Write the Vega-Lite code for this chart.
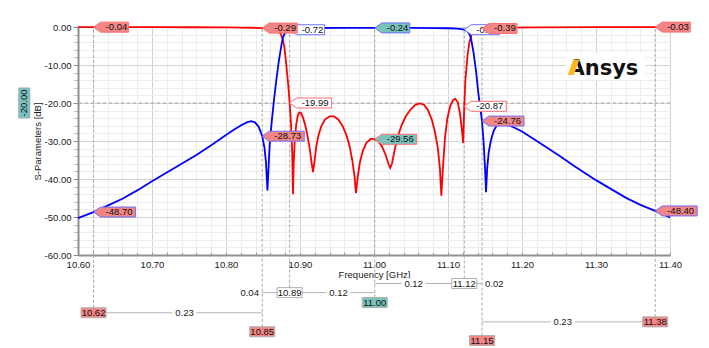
{
  "$schema": "https://vega.github.io/schema/vega-lite/v6.json",
  "width": 592,
  "height": 228,
  "autosize": {"type": "none"},
  "padding": {"left": 78, "top": 27, "right": 39, "bottom": 93},
  "background": "white",
  "config": {"font": "Liberation Sans", "view": {"stroke": "#a8a8a8", "strokeWidth": 1}},
  "resolve": {"axis": {"x": "independent", "y": "independent"}},
  "datasets": {
    "curves": [
      {"f":10.60,"db":-0.03,"trace":"S11"},{"f":10.621,"db":-0.04,"trace":"S11"},{"f":10.65,"db":-0.04,"trace":"S11"},{"f":10.70,"db":-0.05,"trace":"S11"},{"f":10.75,"db":-0.07,"trace":"S11"},{"f":10.80,"db":-0.11,"trace":"S11"},{"f":10.82,"db":-0.15,"trace":"S11"},{"f":10.835,"db":-0.2,"trace":"S11"},{"f":10.849,"db":-0.29,"trace":"S11"},{"f":10.858,"db":-0.4,"trace":"S11"},{"f":10.864,"db":-0.6,"trace":"S11"},{"f":10.868,"db":-0.85,"trace":"S11"},{"f":10.871,"db":-1.2,"trace":"S11"},{"f":10.874,"db":-1.9,"trace":"S11"},{"f":10.8765,"db":-3.0,"trace":"S11"},{"f":10.879,"db":-5.5,"trace":"S11"},{"f":10.8815,"db":-10,"trace":"S11"},{"f":10.884,"db":-15,"trace":"S11"},{"f":10.886,"db":-19.99,"trace":"S11"},{"f":10.888,"db":-26,"trace":"S11"},{"f":10.8895,"db":-33,"trace":"S11"},{"f":10.8905,"db":-44,"trace":"S11"},{"f":10.8915,"db":-36,"trace":"S11"},{"f":10.893,"db":-29.5,"trace":"S11"},{"f":10.895,"db":-25.5,"trace":"S11"},{"f":10.897,"db":-23.3,"trace":"S11"},{"f":10.899,"db":-22.5,"trace":"S11"},{"f":10.901,"db":-22.6,"trace":"S11"},{"f":10.904,"db":-23.8,"trace":"S11"},{"f":10.907,"db":-25.8,"trace":"S11"},{"f":10.910,"db":-28.5,"trace":"S11"},{"f":10.913,"db":-31.8,"trace":"S11"},{"f":10.9155,"db":-35.5,"trace":"S11"},{"f":10.9176,"db":-38.2,"trace":"S11"},{"f":10.9195,"db":-35.5,"trace":"S11"},{"f":10.922,"db":-31.5,"trace":"S11"},{"f":10.925,"db":-28.5,"trace":"S11"},{"f":10.929,"db":-26,"trace":"S11"},{"f":10.934,"db":-24.3,"trace":"S11"},{"f":10.94,"db":-23.5,"trace":"S11"},{"f":10.946,"db":-23.5,"trace":"S11"},{"f":10.952,"db":-24.4,"trace":"S11"},{"f":10.958,"db":-26.2,"trace":"S11"},{"f":10.963,"db":-28.6,"trace":"S11"},{"f":10.967,"db":-31.3,"trace":"S11"},{"f":10.971,"db":-35.5,"trace":"S11"},{"f":10.9735,"db":-39,"trace":"S11"},{"f":10.9757,"db":-43.7,"trace":"S11"},{"f":10.978,"db":-39.5,"trace":"S11"},{"f":10.981,"db":-35.5,"trace":"S11"},{"f":10.985,"db":-32.5,"trace":"S11"},{"f":10.99,"db":-30.4,"trace":"S11"},{"f":10.996,"db":-29.4,"trace":"S11"},{"f":11.001,"db":-29.56,"trace":"S11"},{"f":11.006,"db":-30.1,"trace":"S11"},{"f":11.011,"db":-31.5,"trace":"S11"},{"f":11.016,"db":-33.8,"trace":"S11"},{"f":11.0195,"db":-36,"trace":"S11"},{"f":11.022,"db":-37.1,"trace":"S11"},{"f":11.0245,"db":-35.8,"trace":"S11"},{"f":11.028,"db":-32.2,"trace":"S11"},{"f":11.032,"db":-29,"trace":"S11"},{"f":11.037,"db":-26,"trace":"S11"},{"f":11.043,"db":-23.5,"trace":"S11"},{"f":11.05,"db":-21.6,"trace":"S11"},{"f":11.056,"db":-20.5,"trace":"S11"},{"f":11.062,"db":-20.1,"trace":"S11"},{"f":11.068,"db":-20.5,"trace":"S11"},{"f":11.073,"db":-21.9,"trace":"S11"},{"f":11.078,"db":-24.3,"trace":"S11"},{"f":11.082,"db":-27.3,"trace":"S11"},{"f":11.086,"db":-31.5,"trace":"S11"},{"f":11.089,"db":-37,"trace":"S11"},{"f":11.091,"db":-44.4,"trace":"S11"},{"f":11.093,"db":-37.5,"trace":"S11"},{"f":11.096,"db":-29,"trace":"S11"},{"f":11.099,"db":-24.2,"trace":"S11"},{"f":11.103,"db":-20.8,"trace":"S11"},{"f":11.107,"db":-19.2,"trace":"S11"},{"f":11.1099,"db":-18.9,"trace":"S11"},{"f":11.113,"db":-19.7,"trace":"S11"},{"f":11.116,"db":-22.5,"trace":"S11"},{"f":11.1185,"db":-26.5,"trace":"S11"},{"f":11.1205,"db":-30.5,"trace":"S11"},{"f":11.122,"db":-20.87,"trace":"S11"},{"f":11.1235,"db":-14,"trace":"S11"},{"f":11.1265,"db":-7.3,"trace":"S11"},{"f":11.129,"db":-4,"trace":"S11"},{"f":11.132,"db":-1.9,"trace":"S11"},{"f":11.136,"db":-0.9,"trace":"S11"},{"f":11.141,"db":-0.55,"trace":"S11"},{"f":11.146,"db":-0.39,"trace":"S11"},{"f":11.16,"db":-0.22,"trace":"S11"},{"f":11.18,"db":-0.15,"trace":"S11"},{"f":11.22,"db":-0.09,"trace":"S11"},{"f":11.30,"db":-0.05,"trace":"S11"},{"f":11.38,"db":-0.03,"trace":"S11"},{"f":11.40,"db":-0.03,"trace":"S11"},
      {"f":10.60,"db":-50.3,"trace":"S21"},{"f":10.621,"db":-48.7,"trace":"S21"},{"f":10.64,"db":-47.0,"trace":"S21"},{"f":10.66,"db":-45.2,"trace":"S21"},{"f":10.68,"db":-43.0,"trace":"S21"},{"f":10.70,"db":-40.6,"trace":"S21"},{"f":10.72,"db":-38.3,"trace":"S21"},{"f":10.74,"db":-36.0,"trace":"S21"},{"f":10.76,"db":-33.7,"trace":"S21"},{"f":10.78,"db":-31.1,"trace":"S21"},{"f":10.80,"db":-28.4,"trace":"S21"},{"f":10.81,"db":-27.1,"trace":"S21"},{"f":10.82,"db":-25.9,"trace":"S21"},{"f":10.828,"db":-25.1,"trace":"S21"},{"f":10.834,"db":-24.8,"trace":"S21"},{"f":10.839,"db":-25.1,"trace":"S21"},{"f":10.844,"db":-26.2,"trace":"S21"},{"f":10.849,"db":-28.73,"trace":"S21"},{"f":10.852,"db":-31.8,"trace":"S21"},{"f":10.854,"db":-35.5,"trace":"S21"},{"f":10.856,"db":-43,"trace":"S21"},{"f":10.8575,"db":-37,"trace":"S21"},{"f":10.859,"db":-31,"trace":"S21"},{"f":10.862,"db":-24.5,"trace":"S21"},{"f":10.865,"db":-19,"trace":"S21"},{"f":10.868,"db":-14,"trace":"S21"},{"f":10.871,"db":-9.5,"trace":"S21"},{"f":10.874,"db":-5.8,"trace":"S21"},{"f":10.8765,"db":-3.0,"trace":"S21"},{"f":10.879,"db":-1.8,"trace":"S21"},{"f":10.882,"db":-1.15,"trace":"S21"},{"f":10.886,"db":-0.72,"trace":"S21"},{"f":10.892,"db":-0.45,"trace":"S21"},{"f":10.90,"db":-0.33,"trace":"S21"},{"f":10.92,"db":-0.26,"trace":"S21"},{"f":10.96,"db":-0.24,"trace":"S21"},{"f":11.001,"db":-0.24,"trace":"S21"},{"f":11.05,"db":-0.25,"trace":"S21"},{"f":11.08,"db":-0.28,"trace":"S21"},{"f":11.10,"db":-0.33,"trace":"S21"},{"f":11.112,"db":-0.42,"trace":"S21"},{"f":11.118,"db":-0.55,"trace":"S21"},{"f":11.122,"db":-0.71,"trace":"S21"},{"f":11.125,"db":-0.95,"trace":"S21"},{"f":11.128,"db":-1.5,"trace":"S21"},{"f":11.131,"db":-2.9,"trace":"S21"},{"f":11.1346,"db":-6.8,"trace":"S21"},{"f":11.138,"db":-11.8,"trace":"S21"},{"f":11.141,"db":-17.4,"trace":"S21"},{"f":11.144,"db":-21.8,"trace":"S21"},{"f":11.146,"db":-24.76,"trace":"S21"},{"f":11.148,"db":-30,"trace":"S21"},{"f":11.15,"db":-37,"trace":"S21"},{"f":11.1514,"db":-43.5,"trace":"S21"},{"f":11.153,"db":-37,"trace":"S21"},{"f":11.155,"db":-33,"trace":"S21"},{"f":11.158,"db":-29.8,"trace":"S21"},{"f":11.162,"db":-27.2,"trace":"S21"},{"f":11.167,"db":-25.6,"trace":"S21"},{"f":11.173,"db":-25.2,"trace":"S21"},{"f":11.18,"db":-25.7,"trace":"S21"},{"f":11.19,"db":-26.5,"trace":"S21"},{"f":11.20,"db":-27.5,"trace":"S21"},{"f":11.22,"db":-30,"trace":"S21"},{"f":11.25,"db":-33.8,"trace":"S21"},{"f":11.27,"db":-36.5,"trace":"S21"},{"f":11.30,"db":-40.3,"trace":"S21"},{"f":11.32,"db":-42.6,"trace":"S21"},{"f":11.34,"db":-44.9,"trace":"S21"},{"f":11.36,"db":-46.8,"trace":"S21"},{"f":11.38,"db":-48.4,"trace":"S21"},{"f":11.40,"db":-50.1,"trace":"S21"}
    ],
    "markers": [
      {"f":10.621,"db":-0.04,"label":"-0.04","trace":"S11","kind":"red"},
      {"f":10.849,"db":-0.29,"label":"-0.29","trace":"S11","kind":"red"},
      {"f":10.886,"db":-19.99,"label":"-19.99","trace":"S11","kind":"white"},
      {"f":11.001,"db":-29.56,"label":"-29.56","trace":"S11","kind":"teal"},
      {"f":11.122,"db":-20.87,"label":"-20.87","trace":"S11","kind":"white"},
      {"f":11.146,"db":-0.39,"label":"-0.39","trace":"S11","kind":"red"},
      {"f":11.38,"db":-0.03,"label":"-0.03","trace":"S11","kind":"red"},
      {"f":10.621,"db":-48.70,"label":"-48.70","trace":"S21","kind":"red"},
      {"f":10.849,"db":-28.73,"label":"-28.73","trace":"S21","kind":"red"},
      {"f":10.886,"db":-0.72,"label":"-0.72","trace":"S21","kind":"white"},
      {"f":11.001,"db":-0.24,"label":"-0.24","trace":"S21","kind":"teal"},
      {"f":11.122,"db":-0.71,"label":"-0.71","trace":"S21","kind":"white"},
      {"f":11.146,"db":-24.76,"label":"-24.76","trace":"S21","kind":"red"},
      {"f":11.38,"db":-48.40,"label":"-48.40","trace":"S21","kind":"red"}
    ],
    "freqmarks": [
      {"f":10.621,"db":-75.2,"label":"10.62","kind":"red"},
      {"f":10.849,"db":-80.2,"label":"10.85","kind":"red"},
      {"f":10.886,"db":-69.9,"label":"10.89","kind":"white"},
      {"f":11.001,"db":-72.5,"label":"11.00","kind":"teal"},
      {"f":11.122,"db":-67.5,"label":"11.12","kind":"white"},
      {"f":11.146,"db":-82.5,"label":"11.15","kind":"red"},
      {"f":11.38,"db":-77.6,"label":"11.38","kind":"red"}
    ],
    "deltas": [
      {"f":10.621,"f2":10.849,"db":-75.2,"lf":10.744,"label":"0.23"},
      {"f":10.849,"f2":10.886,"db":-69.9,"lf":10.832,"label":"0.04"},
      {"f":10.886,"f2":11.001,"db":-69.9,"lf":10.952,"label":"0.12"},
      {"f":11.001,"f2":11.122,"db":-67.5,"lf":11.0536,"label":"0.12"},
      {"f":11.122,"f2":11.146,"db":-67.5,"lf":11.1626,"label":"0.02"},
      {"f":11.146,"f2":11.38,"db":-77.6,"lf":11.255,"label":"0.23"}
    ]
  },
  "layer": [
    {
      "data": {"name": "curves"},
      "mark": {"type": "line", "strokeWidth": 1.8, "opacity": 0},
      "encoding": {
        "x": {"field": "f", "type": "quantitative", "scale": {"domain": [10.6, 11.4], "nice": false, "zero": false},
          "axis": {
            "values": [10.6,10.62,10.64,10.66,10.68,10.7,10.72,10.74,10.76,10.78,10.8,10.82,10.84,10.86,10.88,10.9,10.92,10.94,10.96,10.98,11,11.02,11.04,11.06,11.08,11.1,11.12,11.14,11.16,11.18,11.2,11.22,11.24,11.26,11.28,11.3,11.32,11.34,11.36,11.38,11.4],
            "title": "Frequency [GHz]",
            "grid": true,
            "gridColor": {"condition": {"test": "abs(datum.value*10 - round(datum.value*10)) < 0.001", "value": "#d4d4d4"}, "value": "#ececec"},
            "gridWidth": 1,
            "labelExpr": "abs(datum.value*10 - round(datum.value*10)) < 0.001 ? format(datum.value, '.2f') : ''",
            "labelFontSize": 9.5, "labelColor": "#1a1a1a", "labelPadding": 7,
            "labelOverlap": false, "labelFlush": false, "labelBound": false,
            "tickSize": -3, "tickColor": "#9a9a9a",
            "domainColor": "#8f8f8f", "domainWidth": 2,
            "titleFontSize": 9.5, "titleFontWeight": "normal", "titleColor": "#1a1a1a", "titlePadding": 1
          }
        },
        "y": {"field": "db", "type": "quantitative", "scale": {"domain": [-60, 0], "nice": false, "zero": false},
          "axis": {
            "values": [-60,-58,-56,-54,-52,-50,-48,-46,-44,-42,-40,-38,-36,-34,-32,-30,-28,-26,-24,-22,-20,-18,-16,-14,-12,-10,-8,-6,-4,-2,0],
            "title": "S-Parameters [dB]",
            "grid": true,
            "gridColor": {"condition": {"test": "datum.value % 10 == 0", "value": "#d4d4d4"}, "value": "#ececec"},
            "labelExpr": "datum.value % 10 == 0 ? replace(format(datum.value, '.2f'), '\u2212', '-') : ''",
            "labelFontSize": 9.5, "labelColor": "#1a1a1a", "labelPadding": 2,
            "labelOverlap": false, "labelBound": false, "labelFlush": false,
            "tickSize": 5,
            "tickColor": {"condition": {"test": "datum.value % 10 == 0", "value": "#8f8f8f"}, "value": "#c8c8c8"},
            "domainColor": "#8f8f8f", "domainWidth": 2,
            "titleFontSize": 9.5, "titleFontWeight": "normal", "titleColor": "#1a1a1a", "titlePadding": 2
          }
        }
      }
    },
    {
      "data": {"values": [{"db": -20}]},
      "mark": {"type": "rule", "color": "#a0a0a0", "strokeDash": [3, 3], "strokeWidth": 1},
      "encoding": {
        "y": {"field": "db", "type": "quantitative", "scale": {"domain": [-60, 0], "nice": false, "zero": false}, "axis": null}
      }
    },
    {
      "data": {"name": "freqmarks"},
      "mark": {"type": "rule", "color": "#a8a8a8", "strokeDash": [3, 2], "strokeWidth": 1, "clip": false},
      "encoding": {
        "x": {"field": "f", "type": "quantitative", "scale": {"domain": [10.6, 11.4], "nice": false, "zero": false}, "axis": null},
        "y": {"field": "db", "type": "quantitative", "scale": {"domain": [-60, 0], "nice": false, "zero": false}, "axis": null},
        "y2": {"datum": 0}
      }
    },
    {
      "data": {"name": "curves"},
      "mark": {"type": "line", "strokeWidth": 1.8},
      "encoding": {
        "x": {"field": "f", "type": "quantitative", "scale": {"domain": [10.6, 11.4], "nice": false, "zero": false}, "axis": null},
        "y": {"field": "db", "type": "quantitative", "scale": {"domain": [-60, 0], "nice": false, "zero": false}, "axis": null},
        "color": {"field": "trace", "type": "nominal", "scale": {"domain": ["S11", "S21"], "range": ["#ff0000", "#0000ff"]}, "legend": null}
      }
    },
    {
      "data": {"name": "deltas"},
      "mark": {"type": "rule", "color": "#b4b4b4", "strokeWidth": 1, "clip": false},
      "encoding": {
        "x": {"field": "f", "type": "quantitative", "scale": {"domain": [10.6, 11.4], "nice": false, "zero": false}, "axis": null},
        "x2": {"field": "f2"},
        "y": {"field": "db", "type": "quantitative", "scale": {"domain": [-60, 0], "nice": false, "zero": false}, "axis": null}
      }
    },
    {
      "data": {"name": "deltas"},
      "transform": [{"filter": "datum.lf > datum.f && datum.lf < datum.f2"}],
      "mark": {"type": "point", "shape": "M-12,-5 L12,-5 L12,5 L-12,5 Z", "size": 4, "filled": true, "color": "white", "opacity": 1, "clip": false},
      "encoding": {
        "x": {"field": "lf", "type": "quantitative", "scale": {"domain": [10.6, 11.4], "nice": false, "zero": false}, "axis": null},
        "y": {"field": "db", "type": "quantitative", "scale": {"domain": [-60, 0], "nice": false, "zero": false}, "axis": null}
      }
    },
    {
      "data": {"name": "deltas"},
      "mark": {"type": "text", "fontSize": 9.5, "color": "#1a1a1a", "align": "center", "baseline": "middle", "clip": false},
      "encoding": {
        "x": {"field": "lf", "type": "quantitative", "scale": {"domain": [10.6, 11.4], "nice": false, "zero": false}, "axis": null},
        "y": {"field": "db", "type": "quantitative", "scale": {"domain": [-60, 0], "nice": false, "zero": false}, "axis": null},
        "text": {"field": "label"}
      }
    },
    {
      "data": {"name": "freqmarks"},
      "mark": {"type": "point", "shape": "M-12.5,-5 L12.5,-5 L12.5,5 L-12.5,5 Z", "size": 4, "filled": true, "opacity": 1, "stroke": "#b0b0b0", "strokeWidth": 1, "clip": false},
      "encoding": {
        "x": {"field": "f", "type": "quantitative", "scale": {"domain": [10.6, 11.4], "nice": false, "zero": false}, "axis": null},
        "y": {"field": "db", "type": "quantitative", "scale": {"domain": [-60, 0], "nice": false, "zero": false}, "axis": null},
        "fill": {"field": "kind", "type": "nominal", "scale": {"domain": ["red", "white", "teal"], "range": ["#f28585", "#ffffff", "#79c3bd"]}, "legend": null}
      }
    },
    {
      "data": {"name": "freqmarks"},
      "mark": {"type": "text", "fontSize": 9.5, "color": "#111111", "align": "center", "baseline": "middle", "clip": false},
      "encoding": {
        "x": {"field": "f", "type": "quantitative", "scale": {"domain": [10.6, 11.4], "nice": false, "zero": false}, "axis": null},
        "y": {"field": "db", "type": "quantitative", "scale": {"domain": [-60, 0], "nice": false, "zero": false}, "axis": null},
        "text": {"field": "label"}
      }
    },
    {
      "data": {"name": "markers"},
      "transform": [{"filter": "datum.trace == 'S21'"}],
      "mark": {"type": "point", "size": 4, "filled": true, "opacity": 1, "strokeWidth": 1, "clip": false},
      "encoding": {
        "x": {"field": "f", "type": "quantitative", "scale": {"domain": [10.6, 11.4], "nice": false, "zero": false}, "axis": null},
        "y": {"field": "db", "type": "quantitative", "scale": {"domain": [-60, 0], "nice": false, "zero": false}, "axis": null},
        "shape": {"condition": {"test": "length(datum.label) > 5", "value": "M0,0 L7,-5 L42,-5 L42,5 L7,5 Z"}, "value": "M0,0 L7,-5 L35,-5 L35,5 L7,5 Z"},
        "fill": {"field": "kind", "type": "nominal", "scale": {"domain": ["red", "white", "teal"], "range": ["#f28585", "#ffffff", "#79c3bd"]}, "legend": null},
        "stroke": {"field": "trace", "type": "nominal", "scale": {"domain": ["S11", "S21"], "range": ["#ff7070", "#7070ff"]}, "legend": null}
      }
    },
    {
      "data": {"name": "markers"},
      "transform": [{"filter": "datum.trace == 'S21'"}],
      "mark": {"type": "text", "fontSize": 9.5, "color": "#111111", "align": "left", "baseline": "middle", "dx": 12, "clip": false},
      "encoding": {
        "x": {"field": "f", "type": "quantitative", "scale": {"domain": [10.6, 11.4], "nice": false, "zero": false}, "axis": null},
        "y": {"field": "db", "type": "quantitative", "scale": {"domain": [-60, 0], "nice": false, "zero": false}, "axis": null},
        "text": {"field": "label"}
      }
    },
    {
      "data": {"name": "markers"},
      "transform": [{"filter": "datum.trace == 'S11'"}],
      "mark": {"type": "point", "size": 4, "filled": true, "opacity": 1, "strokeWidth": 1, "clip": false},
      "encoding": {
        "x": {"field": "f", "type": "quantitative", "scale": {"domain": [10.6, 11.4], "nice": false, "zero": false}, "axis": null},
        "y": {"field": "db", "type": "quantitative", "scale": {"domain": [-60, 0], "nice": false, "zero": false}, "axis": null},
        "shape": {"condition": {"test": "length(datum.label) > 5", "value": "M0,0 L7,-5 L42,-5 L42,5 L7,5 Z"}, "value": "M0,0 L7,-5 L35,-5 L35,5 L7,5 Z"},
        "fill": {"field": "kind", "type": "nominal", "scale": {"domain": ["red", "white", "teal"], "range": ["#f28585", "#ffffff", "#79c3bd"]}, "legend": null},
        "stroke": {"field": "trace", "type": "nominal", "scale": {"domain": ["S11", "S21"], "range": ["#ff7070", "#7070ff"]}, "legend": null}
      }
    },
    {
      "data": {"name": "markers"},
      "transform": [{"filter": "datum.trace == 'S11'"}],
      "mark": {"type": "text", "fontSize": 9.5, "color": "#111111", "align": "left", "baseline": "middle", "dx": 12, "clip": false},
      "encoding": {
        "x": {"field": "f", "type": "quantitative", "scale": {"domain": [10.6, 11.4], "nice": false, "zero": false}, "axis": null},
        "y": {"field": "db", "type": "quantitative", "scale": {"domain": [-60, 0], "nice": false, "zero": false}, "axis": null},
        "text": {"field": "label"}
      }
    },
    {
      "data": {"values": [{"f": 10.5274, "db": -20, "label": "-20.00"}]},
      "mark": {"type": "point", "shape": "M-5.5,-15 L5.5,-15 L5.5,15 L-5.5,15 Z", "size": 4, "filled": true, "color": "#79c3bd", "opacity": 1, "stroke": "#99aabb", "strokeWidth": 1, "clip": false},
      "encoding": {
        "x": {"field": "f", "type": "quantitative", "scale": {"domain": [10.6, 11.4], "nice": false, "zero": false}, "axis": null},
        "y": {"field": "db", "type": "quantitative", "scale": {"domain": [-60, 0], "nice": false, "zero": false}, "axis": null}
      }
    },
    {
      "data": {"values": [{"f": 10.5274, "db": -20, "label": "-20.00"}]},
      "mark": {"type": "text", "fontSize": 9.5, "color": "#111111", "align": "center", "baseline": "middle", "angle": 270, "clip": false},
      "encoding": {
        "x": {"field": "f", "type": "quantitative", "scale": {"domain": [10.6, 11.4], "nice": false, "zero": false}, "axis": null},
        "y": {"field": "db", "type": "quantitative", "scale": {"domain": [-60, 0], "nice": false, "zero": false}, "axis": null},
        "text": {"field": "label"}
      }
    },
    {
      "data": {"values": [{"f": 11.31, "db": -10.5, "label": "Ansys"}]},
      "mark": {"type": "point", "shape": "M-38,-14 L42,-14 L42,13 L-38,13 Z", "size": 4, "filled": true, "color": "#ffffff", "opacity": 1},
      "encoding": {
        "x": {"field": "f", "type": "quantitative", "scale": {"domain": [10.6, 11.4], "nice": false, "zero": false}, "axis": null},
        "y": {"field": "db", "type": "quantitative", "scale": {"domain": [-60, 0], "nice": false, "zero": false}, "axis": null}
      }
    },
    {
      "data": {"values": [{"f": 11.31, "db": -10.5, "label": "Ansys"}]},
      "mark": {"type": "text", "font": "DejaVu Sans", "fontWeight": "bold", "fontSize": 21, "color": "#111111", "align": "center", "baseline": "alphabetic", "dy": 8},
      "encoding": {
        "x": {"field": "f", "type": "quantitative", "scale": {"domain": [10.6, 11.4], "nice": false, "zero": false}, "axis": null},
        "y": {"field": "db", "type": "quantitative", "scale": {"domain": [-60, 0], "nice": false, "zero": false}, "axis": null},
        "text": {"field": "label"}
      }
    },
    {
      "data": {"values": [{"f": 11.31, "db": -10.5, "label": "Ansys"}]},
      "mark": {"type": "point", "shape": "M-35.5,8 L-29.5,8 L-24,-7.5 L-30,-7.5 Z", "size": 4, "filled": true, "color": "#ffb71b", "opacity": 1},
      "encoding": {
        "x": {"field": "f", "type": "quantitative", "scale": {"domain": [10.6, 11.4], "nice": false, "zero": false}, "axis": null},
        "y": {"field": "db", "type": "quantitative", "scale": {"domain": [-60, 0], "nice": false, "zero": false}, "axis": null}
      }
    }
  ]
}
